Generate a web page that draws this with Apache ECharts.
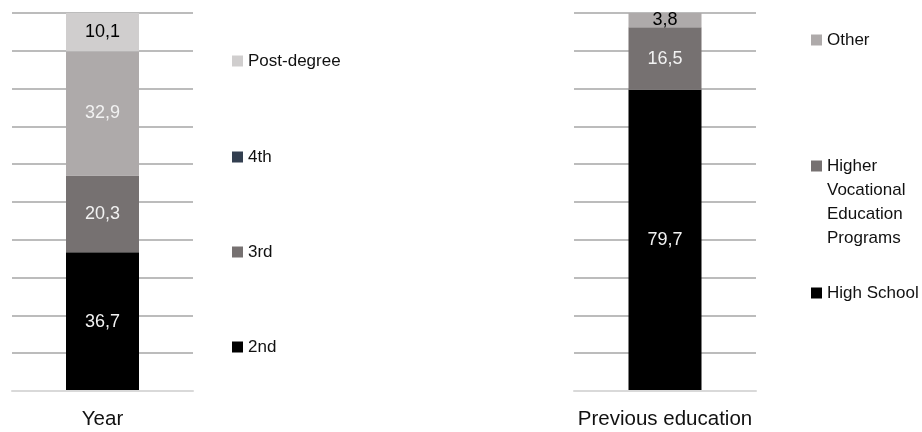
<!DOCTYPE html>
<html>
<head>
<meta charset="utf-8">
<script src="https://cdn.jsdelivr.net/npm/echarts@6/dist/echarts.min.js"></script>
<style>
html,body{margin:0;padding:0;background:#fff;}
#chart{width:922px;height:432px;}
</style>
</head>
<body>
<div id="chart"></div>
<script>
// Left chart: Year
const yearCategories = ['Year'];
const yearSeriesNames = ['2nd', '3rd', '4th', 'Post-degree'];
const year2nd = [36.7];
const year3rd = [20.3];
const year4th = [32.9];
const yearPost = [10.1];

// Right chart: Previous education
const eduCategories = ['Previous education'];
const eduSeriesNames = ['High School', 'Higher Vocational Education Programs', 'Other'];
const eduHighSchool = [79.7];
const eduHVEP = [16.5];
const eduOther = [3.8];

const FONT = '"Liberation Sans", Arial, sans-serif';

function fmt(p) { return String(p.value).replace('.', ','); }

function barSeries(name, data, axisIdx, stack, color, labelColor) {
  return {
    name: name, type: 'bar', stack: stack, data: data,
    xAxisIndex: axisIdx, yAxisIndex: axisIdx,
    barWidth: 73,
    itemStyle: { color: color },
    label: {
      show: true, position: 'inside', formatter: fmt,
      color: labelColor, fontFamily: FONT, fontSize: 18
    }
  };
}

function legendItem(name, left, top, color) {
  return {
    left: left, top: top, orient: 'vertical', padding: 0,
    icon: 'rect', itemWidth: 11, itemHeight: 11,
    selectedMode: false,
    data: [{ name: name, itemStyle: { color: color } }],
    textStyle: { fontFamily: FONT, fontSize: 17, color: '#111', lineHeight: 24 }
  };
}

const yAxisCommon = {
  type: 'value', min: 0, max: 100, interval: 10,
  axisLabel: { show: false }, axisLine: { show: false }, axisTick: { show: false },
  splitLine: { show: true, lineStyle: { color: '#a6a6a6', width: 1.5 } }
};
const xAxisCommon = {
  type: 'category', z: 3,
  axisTick: { show: false },
  axisLine: { show: true, lineStyle: { color: '#d9d9d9', width: 2 } },
  axisLabel: { fontFamily: FONT, fontSize: 20.5, color: '#111', margin: 18 }
};

const multiLegend = legendItem(eduSeriesNames[1], 811, 82, '#767171');
multiLegend.formatter = function () {
  return '{a|Higher}\n{a|Vocational}\n{a|Education}\n{a|Programs}';
};
multiLegend.textStyle = {
  fontFamily: FONT, fontSize: 17, color: '#111', lineHeight: 24,
  padding: [72, 0, 0, 0],
  rich: { a: { fontFamily: FONT, fontSize: 17, color: '#111', lineHeight: 24 } }
};

const option = {
  animation: false,
  backgroundColor: '#fff',
  grid: [
    { left: 12, top: 13, width: 181, height: 378 },
    { left: 574, top: 13, width: 182, height: 378 }
  ],
  xAxis: [
    Object.assign({ gridIndex: 0, data: yearCategories }, xAxisCommon),
    Object.assign({ gridIndex: 1, data: eduCategories }, xAxisCommon)
  ],
  yAxis: [
    Object.assign({ gridIndex: 0 }, yAxisCommon),
    Object.assign({ gridIndex: 1 }, yAxisCommon)
  ],
  legend: [
    legendItem(yearSeriesNames[3], 232, 49, '#d0cece'),
    legendItem(yearSeriesNames[2], 232, 145, '#333f50'),
    legendItem(yearSeriesNames[1], 232, 240, '#767171'),
    legendItem(yearSeriesNames[0], 232, 335, '#000000'),
    legendItem(eduSeriesNames[2], 811, 28, '#aeaaaa'),
    multiLegend,
    legendItem(eduSeriesNames[0], 811, 281, '#000000')
  ],
  series: [
    barSeries(yearSeriesNames[0], year2nd, 0, 'year', '#000000', '#f2f2f2'),
    barSeries(yearSeriesNames[1], year3rd, 0, 'year', '#767171', '#f2f2f2'),
    barSeries(yearSeriesNames[2], year4th, 0, 'year', '#aeaaaa', '#f2f2f2'),
    barSeries(yearSeriesNames[3], yearPost, 0, 'year', '#d0cece', '#000000'),
    barSeries(eduSeriesNames[0], eduHighSchool, 1, 'edu', '#000000', '#f2f2f2'),
    barSeries(eduSeriesNames[1], eduHVEP, 1, 'edu', '#767171', '#f2f2f2'),
    barSeries(eduSeriesNames[2], eduOther, 1, 'edu', '#aeaaaa', '#000000')
  ]
};

const chart = echarts.init(document.getElementById('chart'), null, { renderer: 'canvas' });
chart.setOption(option);
</script>
</body>
</html>
